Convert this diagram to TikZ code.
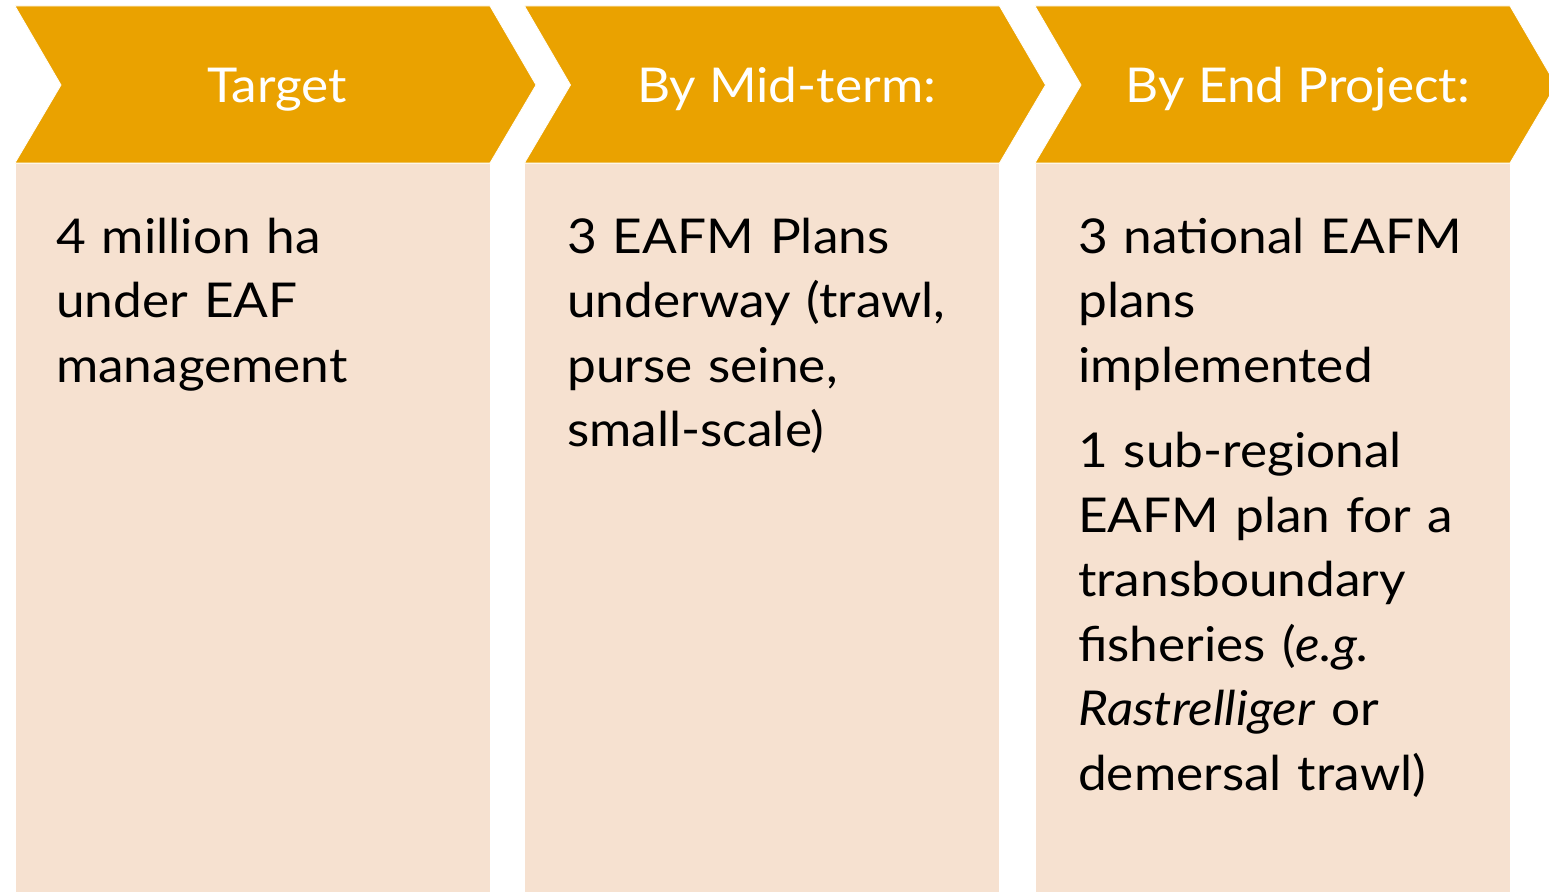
\documentclass[tikz,border=0pt]{standalone}
\usepackage{fontspec}
\setmainfont{Lato}[FakeStretch=1.07]
\definecolor{chevorange}{RGB}{234,162,0}
\definecolor{boxpeach}{RGB}{246,225,208}
\begin{document}
\begin{tikzpicture}[x=1pt,y=-1pt,
  chev/.style={fill=chevorange,draw=white,line width=0.8pt},
  panel/.style={fill=boxpeach,draw=white,line width=0.8pt},
  headtext/.style={anchor=base,text=white,inner sep=0pt,font=\fontsize{48}{64.5}\selectfont},
  bodytext/.style={anchor=base west,text=black,inner sep=0pt,align=left,text width=440pt,font=\fontsize{48}{64.5}\selectfont}]
\useasboundingbox (0,0) rectangle (1549,891);
\begin{scope}
\clip (0,0) rectangle (1549,891);
\foreach \dx in {0,509.5,1020}{
  \begin{scope}[xshift=\dx]
  \path[panel] (15,163) rectangle (490,895);
  \path[chev] (15,6) -- (490,6) -- (536,85) -- (490,163) -- (15,163) -- (61,85) -- cycle;
  \end{scope}
}
\end{scope}
\node[headtext] (h1) at (277,102) {Target};
\node[headtext] (h2) at (786.5,102) {By Mid-term:};
\node[headtext] (h3) at (1298,102) {By End Project:};
\node[bodytext] (t1) at (56,253) {4 million ha\\under EAF\\management};
\node[bodytext] (t2) at (567,253) {3 EAFM Plans\\underway (trawl,\\purse seine,\\small-scale)};
\node[bodytext] (t3) at (1078,253) {3 national EAFM\\plans\\implemented\\[21pt]1 sub-regional\\EAFM plan for a\\transboundary\\fisheries (\textit{e.g.}\\\textit{Rastrelliger} or\\demersal trawl)};
\end{tikzpicture}
\end{document}
